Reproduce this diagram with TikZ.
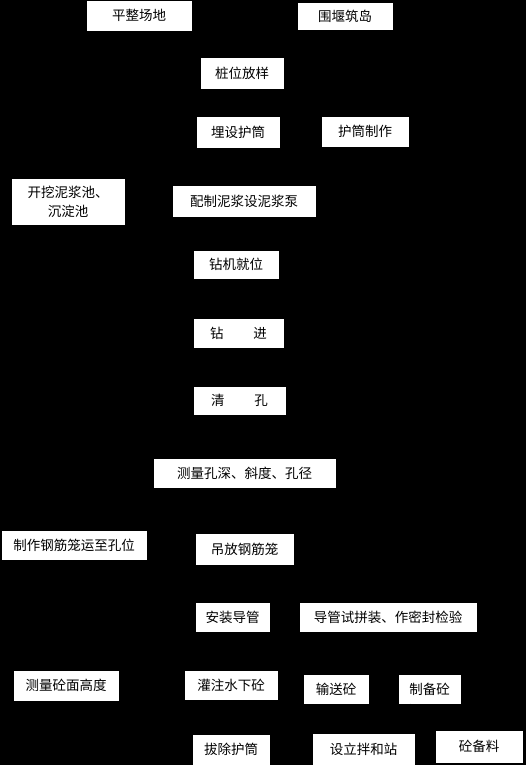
\documentclass[tikz,border=0pt]{standalone}
\usepackage{fontspec}
\newfontfamily\cjk{Noto Sans CJK SC}
\usepackage{tikz}

\begin{document}
\begin{tikzpicture}[x=1pt, y=-1pt,
  box/.style={draw=black, fill=white, inner sep=0pt, align=center,
    font=\cjk\fontsize{13.5}{19}\selectfont},
  flow/.style={->, black}]
%%% background %%%
\fill[black] (0,0) rectangle (526,765);
\useasboundingbox (0,0) rectangle (526,765);

%% site preparation
\node[box, minimum width=106, minimum height=31] (pzcd) at (139,15.5) {平整场地};
\node[box, minimum width=96, minimum height=28] (wyzd) at (345,16) {围堰筑岛};
\node[box, minimum width=84, minimum height=32] (zwfy) at (242,73) {桩位放样};
\node[box, minimum width=84, minimum height=32] (msht) at (238,132) {埋设护筒};
\node[box, minimum width=88, minimum height=31] (htzz) at (365,131.5) {护筒制作};
\node[box, minimum width=114, minimum height=47] (kwnj) at (68,201.5) {开挖泥浆池、\\沉淀池};
\node[box, minimum width=144, minimum height=32] (pznj) at (244,201) {配制泥浆设泥浆泵};
%% drilling
\node[box, minimum width=86, minimum height=29] (zjjw) at (236,264.5) {钻机就位};
\node[box, minimum width=91, minimum height=30] (zj) at (238.5,333) {钻\hspace{2.2em}进};
\node[box, minimum width=93, minimum height=29] (qk) at (239.5,400.5) {清\hspace{2.2em}孔};
\node[box, minimum width=183, minimum height=30] (clks) at (244.5,473) {测量孔深、斜度、孔径};
%% cage and pipe
\node[box, minimum width=146, minimum height=30] (zzgj) at (74,545) {制作钢筋笼运至孔位};
\node[box, minimum width=99, minimum height=32] (dfgj) at (244.5,549) {吊放钢筋笼};
\node[box, minimum width=75, minimum height=30] (azdg) at (232.5,617) {安装导管};
\node[box, minimum width=178, minimum height=30] (dgsp) at (388,617) {导管试拼装、作密封检验};
%% concrete
\node[box, minimum width=106, minimum height=31] (clmg) at (66,685.5) {测量砼面高度};
\node[box, minimum width=94, minimum height=30] (gzsx) at (231,685) {灌注水下砼};
\node[box, minimum width=66, minimum height=30] (sst) at (336,689) {输送砼};
\node[box, minimum width=63, minimum height=30] (zbt) at (429.5,689) {制备砼};
\node[box, minimum width=78, minimum height=31] (bcht) at (231,749.5) {拔除护筒};
\node[box, minimum width=103, minimum height=32] (slbh) at (363.5,749) {设立拌和站};
\node[box, minimum width=88, minimum height=33] (tbl) at (479,746.5) {砼备料};

%% connectors (black on black)
\draw[flow] (pzcd.east) -| (zwfy.north);
\draw (wyzd.west) -| (zwfy.north);
\draw[flow] (zwfy) -- (msht);
\draw[flow] (htzz) -- (msht);
\draw[flow] (msht) -- (pznj);
\draw[flow] (kwnj) -- (pznj);
\draw[flow] (pznj) -- (zjjw);
\draw[flow] (zjjw) -- (zj);
\draw[flow] (zj) -- (qk);
\draw[flow] (qk) -- (clks);
\draw[flow] (clks) -- (dfgj);
\draw[flow] (zzgj) -- (dfgj);
\draw[flow] (dfgj) -- (azdg);
\draw[flow] (dgsp) -- (azdg);
\draw[flow] (azdg) -- (gzsx);
\draw[<->, black] (clmg) -- (gzsx);
\draw[flow] (sst) -- (gzsx);
\draw[flow] (zbt) -- (sst);
\draw[flow] (slbh) -- (zbt);
\draw[flow] (tbl) -- (zbt);
\draw[flow] (gzsx) -- (bcht);

\end{tikzpicture}
\end{document}
